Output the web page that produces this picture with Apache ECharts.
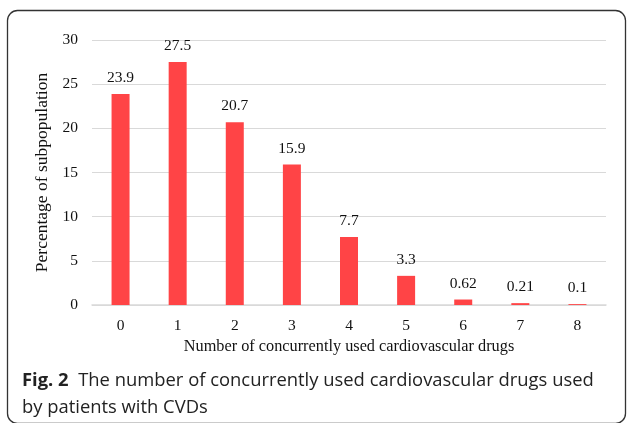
<!DOCTYPE html>
<html>
<head>
<meta charset="utf-8">
<script src="https://cdn.jsdelivr.net/npm/echarts@6/dist/echarts.min.js"></script>
<style>
  html, body { margin: 0; padding: 0; background: #fff; }
  #mainChart { width: 627px; height: 423px; }
</style>
</head>
<body>
<div id="mainChart"></div>
<script>
// data
var drugCounts = ['0', '1', '2', '3', '4', '5', '6', '7', '8'];
var percentages = [23.9, 27.5, 20.7, 15.9, 7.7, 3.3, 0.62, 0.21, 0.1];
var yTicks = [0, 5, 10, 15, 20, 25, 30];

var serif = '"Liberation Serif", "Times New Roman", serif';

var myChart = echarts.init(document.getElementById('mainChart'));

var option = {
    backgroundColor: '#fff',
    animation: false,
    grid: {
        left: 92,
        right: 21,
        top: 40,
        bottom: 118
    },
    xAxis: {
        type: 'category',
        data: drugCounts,
        name: 'Number of concurrently used cardiovascular drugs',
        nameLocation: 'middle',
        nameGap: 34,
        nameTextStyle: { fontFamily: serif, fontSize: 16.3, color: '#111' },
        axisLine: { lineStyle: { color: '#d9d9d9', width: 1.5 } },
        axisTick: { show: false },
        axisLabel: { fontFamily: serif, fontSize: 15.5, color: '#111', margin: 13 }
    },
    yAxis: {
        type: 'value',
        min: yTicks[0],
        max: yTicks[yTicks.length - 1],
        interval: 5,
        name: 'Percentage of subpopulation',
        nameLocation: 'middle',
        nameGap: 41,
        nameTextStyle: { fontFamily: serif, fontSize: 17.5, color: '#111' },
        axisLine: { show: false },
        axisTick: { show: false },
        axisLabel: { fontFamily: serif, fontSize: 15.5, color: '#111', margin: 14 },
        splitLine: { lineStyle: { color: '#d9d9d9', width: 1.2 } }
    },
    series: [{
        name: 'Percentage',
        type: 'bar',
        data: percentages,
        barWidth: 18,
        itemStyle: { color: '#ff4446' },
        label: {
            show: true,
            position: 'top',
            distance: 8,
            fontFamily: serif,
            fontSize: 15.5,
            color: '#111'
        }
    }],
    graphic: [{
        type: 'rect',
        shape: { x: 7.5, y: 10.5, width: 618, height: 413, r: 10 },
        style: { fill: 'none', stroke: '#333', lineWidth: 1.3 },
        silent: true
    }, {
        type: 'text',
        left: 22,
        top: 367,
        style: {
            text: '{b|Fig. 2}  The number of concurrently used cardiovascular drugs used\nby patients with CVDs',
            fontFamily: '"Open Sans", "Noto Sans", sans-serif',
            fontSize: 18.4,
            lineHeight: 27,
            fill: '#222',
            rich: {
                b: {
                    fontFamily: '"Open Sans", "Noto Sans", sans-serif',
                    fontSize: 18.4,
                    fontWeight: 'bold',
                    fill: '#222',
                    lineHeight: 27
                }
            }
        }
    }]
};

myChart.setOption(option);
</script>
</body>
</html>
